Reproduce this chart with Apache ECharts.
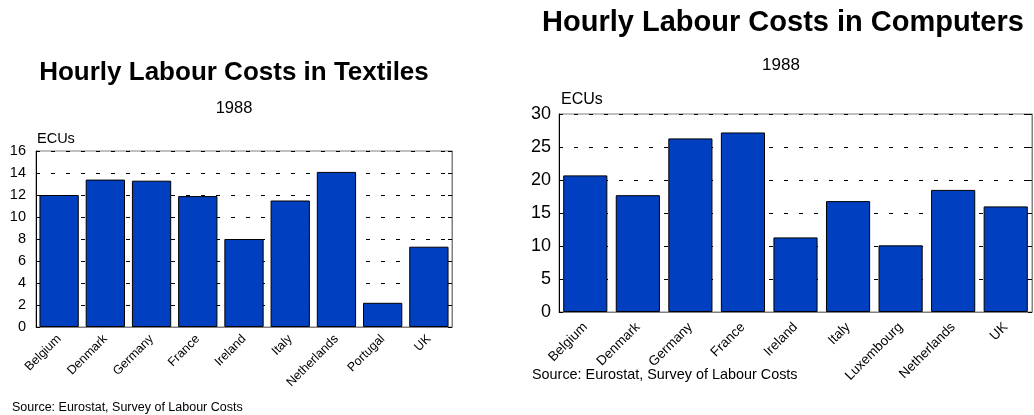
<!DOCTYPE html>
<html><head><meta charset="utf-8">
<script src="https://cdn.jsdelivr.net/npm/echarts@6/dist/echarts.min.js"></script>
<style>html,body{margin:0;padding:0;background:#fff}#c{width:1034px;height:415px}</style>
</head><body><div id="c"></div>
<script>
const textileCategories = ['Belgium','Denmark','Germany','France','Ireland','Italy','Netherlands','Portugal','UK'];
const textileValues = [12.0, 13.4, 13.3, 11.9, 8.0, 11.5, 14.1, 2.2, 7.3];
const computerCategories = ['Belgium','Denmark','Germany','France','Ireland','Italy','Luxembourg','Netherlands','UK'];
const computerValues = [20.7, 17.7, 26.3, 27.2, 11.3, 16.8, 10.1, 18.5, 16.0];
const textileTitle = 'Hourly Labour Costs in Textiles';
const computerTitle = 'Hourly Labour Costs in Computers';
const yearLabel = '1988';
const unitLabel = 'ECUs';
const sourceLabel = 'Source: Eurostat, Survey of Labour Costs';

const FONT = 'Liberation Sans, Arial, sans-serif';
const chart = echarts.init(document.getElementById('c'), null, {renderer:'canvas'});

function txt(text, x, y, size, bold, align) {
  return {type:'text', x:x, y:y, z:100, style:{text:text, fill:'#000', font:(bold?'bold ':'') + size + 'px ' + FONT, align:align||'center', verticalAlign:'middle'}};
}

function yAx(gi, max, interval, fs, margin, right) {
  return {
    type:'value', gridIndex:gi, min:0, max:max, interval:interval, position: right?'right':'left',
    axisLine:{show:true, lineStyle:{color: right?'#808080':'#000', width:1}},
    axisTick:{show:true, inside:true, length:4, lineStyle:{color:'#000'}},
    axisLabel:{show:!right, color:'#000', fontSize:fs, fontFamily:FONT, margin:margin},
    splitLine:{show:!right, lineStyle:{color:'#000', width:1, type:[4,11]}}
  };
}
function xAx(gi, cats, fs, margin) {
  return {
    type:'category', gridIndex:gi, data:cats,
    axisLine:{show:true, lineStyle:{color:'#808080'}},
    axisTick:{show:false},
    axisLabel:{rotate:45, color:'#000', fontSize:fs, fontFamily:FONT, margin:margin, interval:0}
  };
}

chart.setOption({
  animation:false,
  grid:[
    {left:36, top:151, width:416, height:176, show:true, borderColor:'#808080', borderWidth:1, backgroundColor:'transparent'},
    {left:559, top:114, width:473, height:198, show:true, borderColor:'#808080', borderWidth:1, backgroundColor:'transparent'}
  ],
  xAxis:[xAx(0, textileCategories, 12.5, 10), xAx(1, computerCategories, 13.5, 13)],
  yAxis:[yAx(0,16,2,14.5,10,false), yAx(1,30,5,18,8,false), yAx(0,16,2,14.5,10,true), yAx(1,30,5,18,8,true)],
  series:[
    {type:'bar', xAxisIndex:0, yAxisIndex:0, data:textileValues, barCategoryGap:'15%',
      itemStyle:{color:'#0040C0', borderColor:'#000', borderWidth:1}},
    {type:'bar', xAxisIndex:1, yAxisIndex:1, data:computerValues, barCategoryGap:'16%',
      itemStyle:{color:'#0040C0', borderColor:'#000', borderWidth:1}}
  ],
  graphic:[
    txt(textileTitle, 234, 73, 26, true),
    txt(yearLabel, 234, 108, 16.5, false),
    txt(unitLabel, 37, 139, 14.5, false, 'left'),
    txt(sourceLabel, 12, 408, 12.5, false, 'left'),
    txt(computerTitle, 783, 23, 29, true),
    txt(yearLabel, 781, 65.5, 17, false),
    txt(unitLabel, 561, 100, 16, false, 'left'),
    txt(sourceLabel, 532, 375, 14.4, false, 'left')
  ]
});
</script></body></html>
